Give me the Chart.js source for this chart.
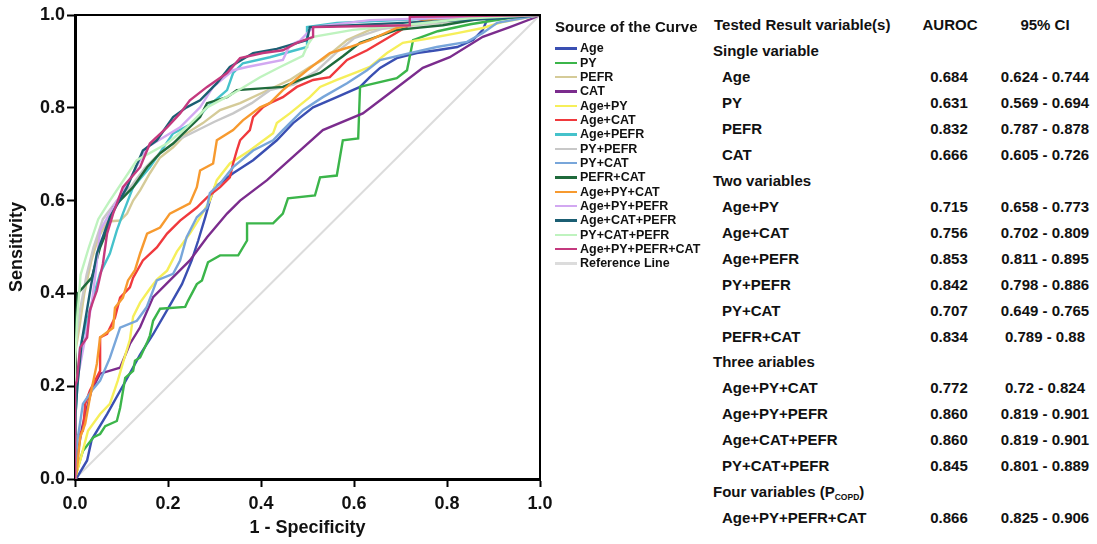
<!DOCTYPE html>
<html>
<head>
<meta charset="utf-8">
<script src="https://cdn.jsdelivr.net/npm/chart.js@4.4.1/dist/chart.umd.min.js"></script>
<style>
  html, body { margin: 0; padding: 0; background: #fff; }
  #wrap { position: relative; width: 1097px; height: 544px; overflow: hidden; background: #fff;
          font-family: "Liberation Sans", Arial, Helvetica, sans-serif; color: #111; }
  #c { position: absolute; left: 0; top: 0; }
  .lg-title { position: absolute; left: 555px; top: 18px; font-weight: bold; font-size: 15px; line-height: 18px; white-space: nowrap; }
  .lg-item { position: absolute; left: 555px; height: 14px; font-weight: bold; font-size: 12.5px; line-height: 14px; white-space: nowrap; }
  .lg-item span.sw { position: absolute; left: 0; top: 6px; width: 22px; height: 2.5px; }
  .lg-item span.tx { position: absolute; left: 25px; top: 0; }
  .tb { position: absolute; font-weight: bold; font-size: 15px; line-height: 18px; white-space: nowrap; }
  .tb.c { text-align: center; }
  sub { font-size: 8.5px; vertical-align: -3px; line-height: 0; }
</style>
</head>
<body>
<div id="wrap">
  <canvas id="c" width="560" height="544" style="width:560px;height:544px;"></canvas>
</div>
<script>
// ---------- data ----------
const seriesNames = ['Age','PY','PEFR','CAT','Age+PY','Age+CAT','Age+PEFR','PY+PEFR','PY+CAT','PEFR+CAT',
  'Age+PY+CAT','Age+PY+PEFR','Age+CAT+PEFR','PY+CAT+PEFR','Age+PY+PEFR+CAT','Reference Line'];

const curveAge = [[0,0],[0.004,0.003],[0.026,0.04],[0.036,0.085],[0.069,0.14],[0.111,0.215],[0.14,0.268],[0.168,0.312],[0.204,0.374],[0.23,0.42],[0.251,0.471],[0.265,0.514],[0.28,0.564],[0.29,0.6],[0.3,0.628],[0.34,0.659],[0.383,0.687],[0.434,0.73],[0.469,0.767],[0.512,0.801],[0.563,0.823],[0.613,0.845],[0.634,0.866],[0.656,0.886],[0.692,0.907],[0.735,0.918],[0.778,0.924],[0.822,0.931],[0.856,0.946],[0.877,0.968],[0.886,0.989],[0.92,0.996],[1,1]];
const curvePY = [[0,0],[0.005,0.02],[0.012,0.045],[0.017,0.06],[0.028,0.075],[0.04,0.09],[0.054,0.097],[0.065,0.114],[0.09,0.125],[0.097,0.153],[0.108,0.218],[0.125,0.233],[0.129,0.255],[0.14,0.262],[0.155,0.294],[0.161,0.309],[0.168,0.341],[0.183,0.367],[0.237,0.371],[0.243,0.384],[0.262,0.42],[0.273,0.428],[0.286,0.467],[0.312,0.482],[0.351,0.482],[0.37,0.514],[0.37,0.551],[0.426,0.551],[0.447,0.572],[0.458,0.605],[0.516,0.611],[0.527,0.65],[0.563,0.654],[0.576,0.73],[0.609,0.734],[0.613,0.845],[0.628,0.849],[0.692,0.864],[0.714,0.881],[0.727,0.946],[0.78,0.965],[0.85,0.98],[0.93,0.993],[1,1]];
const curvePEFR = [[0,0],[0,0.27],[0.01,0.33],[0.02,0.4],[0.035,0.47],[0.05,0.52],[0.07,0.555],[0.097,0.557],[0.112,0.572],[0.125,0.6],[0.14,0.622],[0.161,0.659],[0.183,0.693],[0.211,0.715],[0.24,0.745],[0.275,0.767],[0.312,0.795],[0.355,0.81],[0.419,0.84],[0.462,0.86],[0.505,0.888],[0.533,0.903],[0.585,0.946],[0.634,0.968],[0.72,0.978],[0.849,0.989],[1,1]];
const curveCAT = [[0,0],[0.005,0.05],[0.015,0.11],[0.025,0.15],[0.035,0.19],[0.054,0.227],[0.09,0.238],[0.097,0.24],[0.118,0.291],[0.14,0.327],[0.168,0.392],[0.204,0.428],[0.247,0.471],[0.284,0.521],[0.327,0.572],[0.355,0.6],[0.413,0.644],[0.477,0.702],[0.533,0.752],[0.619,0.788],[0.677,0.832],[0.748,0.886],[0.806,0.909],[0.877,0.953],[0.935,0.974],[0.985,0.993],[1,1]];
const curveAgePY = [[0,0],[0.005,0.02],[0.011,0.039],[0.028,0.104],[0.054,0.14],[0.075,0.162],[0.092,0.212],[0.103,0.25],[0.118,0.3],[0.125,0.35],[0.14,0.38],[0.161,0.41],[0.176,0.43],[0.198,0.449],[0.219,0.49],[0.247,0.529],[0.269,0.564],[0.29,0.6],[0.305,0.644],[0.333,0.68],[0.376,0.708],[0.426,0.745],[0.434,0.767],[0.462,0.788],[0.505,0.823],[0.527,0.845],[0.563,0.86],[0.606,0.877],[0.634,0.888],[0.671,0.918],[0.705,0.94],[0.763,0.95],[0.822,0.961],[0.877,0.972],[0.92,0.985],[1,1]];
const curveAgeCAT = [[0,0],[0.002,0.09],[0.017,0.104],[0.022,0.162],[0.032,0.19],[0.054,0.233],[0.054,0.305],[0.069,0.313],[0.086,0.348],[0.097,0.391],[0.118,0.413],[0.125,0.434],[0.146,0.471],[0.176,0.499],[0.198,0.529],[0.226,0.557],[0.262,0.585],[0.284,0.607],[0.312,0.629],[0.333,0.65],[0.34,0.68],[0.348,0.708],[0.355,0.73],[0.376,0.752],[0.383,0.78],[0.404,0.801],[0.419,0.81],[0.447,0.823],[0.477,0.845],[0.512,0.86],[0.548,0.866],[0.585,0.903],[0.628,0.924],[0.677,0.953],[0.727,0.983],[0.778,0.993],[1,1]];
const curveAgePEFR = [[0,0],[0,0.12],[0.005,0.2],[0.011,0.283],[0.026,0.341],[0.039,0.391],[0.054,0.443],[0.075,0.486],[0.09,0.536],[0.103,0.572],[0.125,0.629],[0.161,0.672],[0.211,0.745],[0.254,0.767],[0.284,0.801],[0.327,0.838],[0.34,0.875],[0.361,0.896],[0.419,0.909],[0.499,0.931],[0.499,0.974],[0.563,0.983],[0.778,0.993],[1,1]];
const curvePYPEFR = [[0,0],[0,0.28],[0.01,0.36],[0.025,0.44],[0.04,0.5],[0.06,0.56],[0.09,0.6],[0.12,0.63],[0.15,0.67],[0.18,0.7],[0.22,0.73],[0.26,0.75],[0.3,0.77],[0.34,0.788],[0.38,0.81],[0.419,0.838],[0.47,0.85],[0.52,0.88],[0.563,0.92],[0.6,0.95],[0.66,0.97],[0.75,0.98],[0.85,0.99],[1,1]];
const curvePYCAT = [[0,0],[0.004,0.075],[0.017,0.162],[0.036,0.19],[0.054,0.212],[0.075,0.261],[0.097,0.326],[0.133,0.341],[0.154,0.37],[0.176,0.428],[0.211,0.442],[0.226,0.471],[0.24,0.521],[0.262,0.564],[0.284,0.585],[0.29,0.616],[0.312,0.637],[0.34,0.672],[0.383,0.708],[0.426,0.73],[0.447,0.752],[0.49,0.795],[0.533,0.823],[0.585,0.853],[0.628,0.881],[0.656,0.903],[0.72,0.918],[0.778,0.931],[0.843,0.942],[0.877,0.961],[0.908,0.983],[1,1]];
const curvePEFRCAT = [[0,0],[0,0.3],[0.006,0.4],[0.036,0.434],[0.054,0.499],[0.069,0.536],[0.082,0.585],[0.125,0.629],[0.155,0.672],[0.183,0.702],[0.211,0.723],[0.24,0.752],[0.269,0.78],[0.284,0.81],[0.327,0.823],[0.348,0.838],[0.447,0.845],[0.484,0.86],[0.527,0.875],[0.576,0.911],[0.613,0.94],[0.649,0.953],[0.692,0.968],[0.791,0.978],[0.877,0.993],[1,1]];
const curveAgePYCAT = [[0,0],[0.004,0.017],[0.011,0.089],[0.022,0.119],[0.032,0.175],[0.047,0.248],[0.054,0.305],[0.082,0.326],[0.086,0.369],[0.103,0.391],[0.114,0.428],[0.129,0.45],[0.14,0.486],[0.155,0.529],[0.183,0.542],[0.204,0.572],[0.247,0.594],[0.262,0.629],[0.269,0.665],[0.297,0.68],[0.305,0.73],[0.34,0.752],[0.361,0.773],[0.398,0.801],[0.419,0.81],[0.447,0.838],[0.499,0.881],[0.548,0.918],[0.591,0.931],[0.634,0.946],[0.692,0.972],[0.778,0.993],[1,1]];
const curveAgePYPEFR = [[0,0],[0,0.2],[0.01,0.24],[0.025,0.32],[0.036,0.378],[0.045,0.45],[0.054,0.536],[0.082,0.585],[0.12,0.65],[0.155,0.715],[0.226,0.758],[0.269,0.801],[0.297,0.845],[0.34,0.881],[0.37,0.888],[0.447,0.903],[0.462,0.935],[0.484,0.945],[0.512,0.974],[0.634,0.989],[1,1]];
const curveAgeCATPEFR = [[0,0],[0,0.12],[0.005,0.2],[0.015,0.3],[0.025,0.36],[0.035,0.42],[0.047,0.486],[0.075,0.564],[0.112,0.629],[0.146,0.708],[0.176,0.73],[0.211,0.78],[0.24,0.801],[0.269,0.816],[0.305,0.853],[0.333,0.888],[0.383,0.918],[0.434,0.927],[0.499,0.946],[0.505,0.974],[0.705,0.983],[0.92,0.993],[1,1]];
const curvePYCATPEFR = [[0,0],[0,0.25],[0.005,0.35],[0.012,0.44],[0.03,0.5],[0.05,0.56],[0.075,0.6],[0.133,0.687],[0.198,0.723],[0.24,0.758],[0.284,0.801],[0.34,0.831],[0.398,0.866],[0.441,0.888],[0.49,0.912],[0.5,0.935],[0.512,0.953],[0.598,0.968],[0.705,0.978],[0.849,0.993],[1,1]];
const curveAll = [[0,0],[0,0.2],[0.004,0.212],[0.011,0.283],[0.026,0.305],[0.032,0.363],[0.039,0.384],[0.047,0.406],[0.06,0.464],[0.069,0.529],[0.082,0.572],[0.103,0.629],[0.14,0.672],[0.161,0.723],[0.198,0.758],[0.226,0.788],[0.247,0.816],[0.284,0.845],[0.327,0.875],[0.355,0.907],[0.404,0.918],[0.447,0.924],[0.477,0.94],[0.512,0.953],[0.512,0.974],[0.72,0.978],[0.72,0.996],[1,1]];
const curveReference = [[0,0],[1,1]];

const axisTicks = [0, 0.2, 0.4, 0.6, 0.8, 1.0];

// table
const tableHeaders = ['Tested Result variable(s)', 'AUROC', '95% CI'];
const groupNames = ['Single variable', 'Two variables', 'Three ariables', 'Four variables (P'];
const groupSizes = [4, 6, 4, 1];
const rowNames = ['Age','PY','PEFR','CAT','Age+PY','Age+CAT','Age+PEFR','PY+PEFR','PY+CAT','PEFR+CAT','Age+PY+CAT','Age+PY+PEFR','Age+CAT+PEFR','PY+CAT+PEFR','Age+PY+PEFR+CAT'];
const aurocValues = ['0.684','0.631','0.832','0.666','0.715','0.756','0.853','0.842','0.707','0.834','0.772','0.860','0.860','0.845','0.866'];
const ciLow  = ['0.624','0.569','0.787','0.605','0.658','0.702','0.811','0.798','0.649','0.789','0.72','0.819','0.819','0.801','0.825'];
const ciHigh = ['0.744','0.694','0.878','0.726','0.773','0.809','0.895','0.886','0.765','0.88','0.824','0.901','0.901','0.889','0.906'];

// ---------- styles ----------
const seriesColors = ['#3a4fb2','#3bb54a','#d5cb98','#7b2c8d','#f6ef5a','#f0393d','#45c2cb','#c8c8c8','#78a6da','#1f6a3b',
  '#f79a2f','#d2a8f1','#1b5e73','#bff3bf','#c4397e','#dcdcdc'];

const curves = [curveAge, curvePY, curvePEFR, curveCAT, curveAgePY, curveAgeCAT, curveAgePEFR, curvePYPEFR, curvePYCAT,
  curvePEFRCAT, curveAgePYCAT, curveAgePYPEFR, curveAgeCATPEFR, curvePYCATPEFR, curveAll, curveReference];

const datasets = curves.map((c, i) => ({
  label: seriesNames[i],
  data: c.map(p => ({x: p[0], y: p[1]})),
  showLine: true,
  borderColor: seriesColors[i],
  backgroundColor: seriesColors[i],
  borderWidth: i === 15 ? 2 : 2.4,
  pointRadius: 0,
  pointHoverRadius: 0,
  tension: 0,
  fill: false,
  order: i === 15 ? 100 : 20 - i
}));

const framePlugin = {
  id: 'frame',
  afterDatasetsDraw(chart) {
    const a = chart.chartArea, ctx = chart.ctx;
    ctx.save();
    ctx.strokeStyle = '#000';
    ctx.lineWidth = 2;
    ctx.beginPath();
    ctx.moveTo(a.left, a.top);
    ctx.lineTo(a.right, a.top);
    ctx.lineTo(a.right, a.bottom);
    ctx.stroke();
    ctx.restore();
  }
};

const fontFam = '"Liberation Sans", Arial, Helvetica, sans-serif';
function axisCfg(title, isY) {
  return {
    type: 'linear', min: 0, max: 1,
    afterBuildTicks: s => { s.ticks = axisTicks.map(v => ({value: v})); },
    afterFit: s => { if (isY) s.width = 75; else s.height = 65; },
    ticks: { color: '#111', font: {family: fontFam, size: 18, weight: 'bold'}, padding: isY ? 2 : 6,
             callback: v => Number(v).toFixed(1), maxRotation: 0, autoSkip: false },
    grid: { display: true, drawOnChartArea: false, drawTicks: true, tickLength: 8, tickColor: '#000', tickWidth: 2 },
    border: { display: true, color: '#000', width: 3 },
    title: { display: true, text: title, color: '#111', font: {family: fontFam, size: 18, weight: 'bold'},
             padding: isY ? {top: 6, bottom: 0} : {top: 0, bottom: 5} }
  };
}

new Chart(document.getElementById('c'), {
  type: 'scatter',
  data: { datasets },
  options: {
    responsive: false,
    animation: false,
    devicePixelRatio: 1,
    layout: { padding: { top: 15, right: 20, left: 0, bottom: 0 } },
    plugins: { legend: { display: false }, tooltip: { enabled: false } },
    scales: {
      x: axisCfg('1 - Specificity', false),
      y: axisCfg('Sensitivity', true)
    }
  },
  plugins: [framePlugin]
});

// ---------- legend (HTML text) ----------
const wrap = document.getElementById('wrap');
const lt = document.createElement('div');
lt.className = 'lg-title';
lt.textContent = 'Source of the Curve';
wrap.appendChild(lt);
seriesNames.forEach((n, i) => {
  const d = document.createElement('div');
  d.className = 'lg-item';
  d.style.top = (48.3 + i * 14.33 - 7) + 'px';
  const sw = document.createElement('span');
  sw.className = 'sw';
  sw.style.background = seriesColors[i];
  const tx = document.createElement('span');
  tx.className = 'tx';
  tx.textContent = n;
  d.appendChild(sw); d.appendChild(tx);
  wrap.appendChild(d);
});

// ---------- table (HTML text) ----------
function addText(html, left, yc, width, center) {
  const d = document.createElement('div');
  d.className = 'tb' + (center ? ' c' : '');
  d.style.left = left + 'px';
  d.style.top = (yc - 9) + 'px';
  if (width) d.style.width = width + 'px';
  d.innerHTML = html;
  wrap.appendChild(d);
}
const rowY = r => 25 + r * 25.96;
addText(tableHeaders[0], 714, rowY(0));
addText(tableHeaders[1], 900, rowY(0), 100, true);
addText(tableHeaders[2], 990, rowY(0), 110, true);
let r = 1, k = 0;
groupNames.forEach((g, gi) => {
  addText(gi === 3 ? g + '<sub>COPD</sub>)' : g, 713, rowY(r));
  r++;
  for (let j = 0; j < groupSizes[gi]; j++, k++, r++) {
    addText(rowNames[k], 722, rowY(r));
    addText(aurocValues[k], 900, rowY(r), 98, true);
    addText(ciLow[k] + ' - ' + ciHigh[k], 990, rowY(r), 110, true);
  }
});
</script>
</body>
</html>
